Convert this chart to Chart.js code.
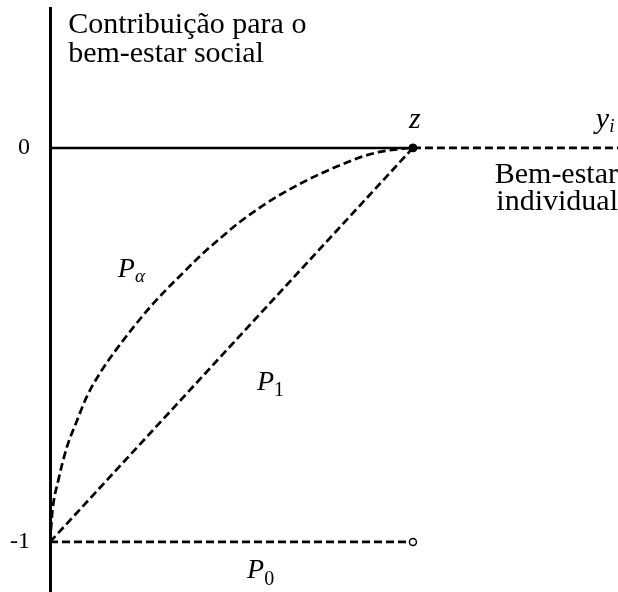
<!DOCTYPE html>
<html>
<head>
<meta charset="utf-8">
<script src="https://cdn.jsdelivr.net/npm/chart.js@4"></script>
<style>
  html, body { margin: 0; padding: 0; background: #fff; }
</style>
</head>
<body>
<canvas id="chart" width="618" height="592"></canvas>
<script>
// eixo horizontal: origem, linha de pobreza z, fim do eixo
const axisX = [0, 1, 1.565];
const yTicks = [0, -1];
const yTickLabels = ["0", "-1"];

// curva P_alpha
const alphaX = [0, 0.007, 0.023, 0.046, 0.074, 0.101, 0.138, 0.184, 0.229, 0.275, 0.321, 0.358,
  0.413, 0.468, 0.523, 0.579, 0.634, 0.689, 0.744, 0.799, 0.854, 0.909, 0.964, 1];
const alphaY = [-1, -0.919, -0.843, -0.761, -0.693, -0.632, -0.571, -0.51, -0.456, -0.405, -0.359, -0.325,
  -0.275, -0.23, -0.188, -0.151, -0.119, -0.091, -0.066, -0.044, -0.024, -0.01, -0.003, 0];

// P_1 e P_0
const p1X = [0, 1];
const p1Y = [-1, 0];
const p0X = [0, 1];
const p0Y = [-1, -1];

const titleLines = ["Contribuição para o", "bem-estar social"];
const xTitleLines = ["Bem-estar", "individual"];

const serif = "'Liberation Serif', 'DejaVu Serif', serif";
const dash = [8, 4];

function pts(xs, ys) {
  return xs.map((x, i) => ({ x: x, y: ys[i] }));
}

// texto com subscrito
function subText(ctx, main, sub, x, y, mainFont, subFont, dy) {
  ctx.font = mainFont;
  ctx.fillText(main, x, y);
  const w = ctx.measureText(main).width;
  ctx.font = subFont;
  ctx.fillText(sub, x + w, y + dy);
}

const labelsPlugin = {
  id: "labels",
  afterDraw(chart) {
    const ctx = chart.ctx;
    const xs = chart.scales.x;
    const ys = chart.scales.y;
    const px = v => xs.getPixelForValue(v);
    const py = v => ys.getPixelForValue(v);
    ctx.save();
    ctx.fillStyle = "#000";
    ctx.textBaseline = "alphabetic";

    // titulo do eixo vertical
    ctx.textAlign = "left";
    ctx.font = "30px " + serif;
    ctx.fillText(titleLines[0], px(0.05), py(0.292));
    ctx.fillText(titleLines[1], px(0.05), py(0.218));

    // titulo do eixo horizontal
    ctx.textAlign = "right";
    ctx.fillText(xTitleLines[0], px(axisX[2]), py(-0.089));
    ctx.fillText(xTitleLines[1], px(axisX[2]), py(-0.157));

    // z e y_i
    ctx.textAlign = "center";
    ctx.font = "italic 30px " + serif;
    ctx.fillText("z", px(axisX[1]) + 2, py(0.051));
    ctx.textAlign = "left";
    subText(ctx, "y", "i", px(1.504), py(0.051), "italic 30px " + serif, "italic 19px " + serif, 4);

    // rotulos das curvas
    subText(ctx, "P", "α", px(0.187), py(-0.327), "italic 28px " + serif, "italic 19px " + serif, 5);
    subText(ctx, "P", "1", px(0.57), py(-0.614), "italic 28px " + serif, "20px " + serif, 6);
    subText(ctx, "P", "0", px(0.543), py(-1.091), "italic 28px " + serif, "20px " + serif, 7);
    ctx.restore();
  }
};

new Chart(document.getElementById("chart"), {
  type: "scatter",
  data: {
    datasets: [
      {
        label: "z",
        data: [{ x: axisX[1], y: 0 }],
        pointRadius: 4,
        pointBackgroundColor: "#000",
        pointBorderColor: "#000",
        showLine: false
      },
      {
        label: "P0",
        data: pts(p0X, p0Y),
        showLine: true,
        borderColor: "#000",
        borderWidth: 2.7,
        borderDash: dash,
        pointRadius: [0, 3.5],
        pointBorderWidth: 1.5,
        pointBackgroundColor: "#fff",
        pointBorderColor: "#000"
      },
      {
        label: "zero",
        data: [{ x: axisX[0], y: 0 }, { x: axisX[1], y: 0 }],
        showLine: true,
        borderColor: "#000",
        borderWidth: 2.5,
        pointRadius: 0
      },
      {
        label: "zero-dashed",
        data: [{ x: axisX[1], y: 0 }, { x: axisX[2], y: 0 }],
        showLine: true,
        borderColor: "#000",
        borderWidth: 2.7,
        borderDash: dash,
        pointRadius: 0
      },
      {
        label: "Palpha",
        data: pts(alphaX, alphaY),
        showLine: true,
        cubicInterpolationMode: "monotone",
        borderColor: "#000",
        borderWidth: 2.7,
        borderDash: dash,
        pointRadius: 0
      },
      {
        label: "P1",
        data: pts(p1X, p1Y),
        showLine: true,
        borderColor: "#000",
        borderWidth: 2.7,
        borderDash: dash,
        pointRadius: 0
      }
    ]
  },
  options: {
    responsive: false,
    animation: false,
    layout: { autoPadding: false, padding: { top: 8, left: 0, right: 0, bottom: 0 } },
    plugins: {
      legend: { display: false },
      tooltip: { enabled: false }
    },
    scales: {
      x: {
        type: "linear",
        display: false,
        min: axisX[0],
        max: axisX[2]
      },
      y: {
        type: "linear",
        min: -1.127,
        max: 0.355,
        afterBuildTicks(scale) {
          scale.ticks = yTicks.map(v => ({ value: v }));
        },
        afterFit(scale) {
          scale.width = 50;
          scale.paddingTop = 0;
          scale.paddingBottom = 0;
        },
        grid: { display: false, drawTicks: false },
        border: { display: true, color: "#000", width: 3 },
        ticks: {
          color: "#000",
          padding: 20,
          font: { family: serif, size: 24 },
          callback: function (value) {
            const i = yTicks.indexOf(value);
            return i >= 0 ? yTickLabels[i] : "";
          }
        }
      }
    }
  },
  plugins: [labelsPlugin]
});
</script>
</body>
</html>
